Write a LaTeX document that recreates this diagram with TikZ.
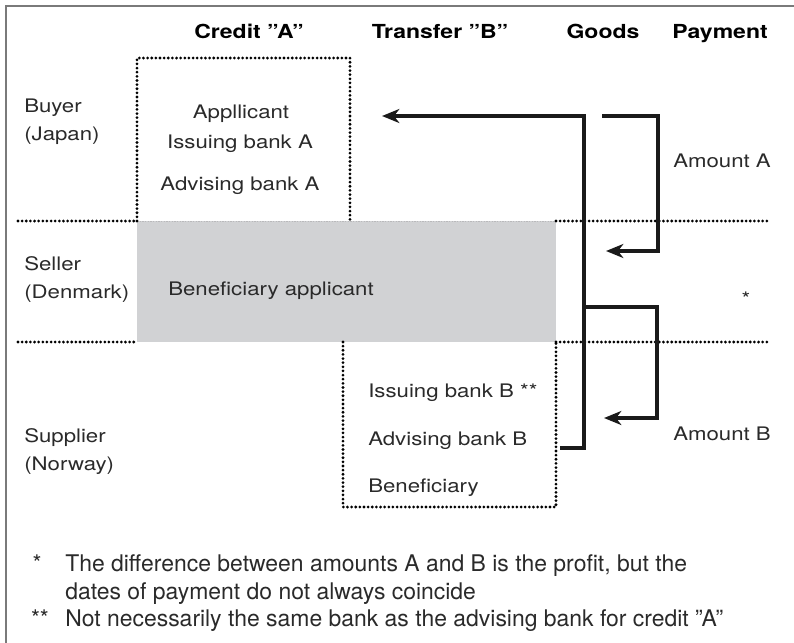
\documentclass[tikz,border=0pt]{standalone}
\usepackage{fontspec}
\usetikzlibrary{arrows.meta}
\newfontfamily\bodyf[FakeStretch=1.19]{TeX Gyre Heros}
\newfontfamily\headf[FakeStretch=1.19]{TeX Gyre Heros}
\newfontfamily\notef{TeX Gyre Heros}
\definecolor{txt}{HTML}{2A2A2A}
\definecolor{boxgray}{HTML}{D1D2D4}
\definecolor{framegray}{HTML}{7A7A7A}
\definecolor{arr}{HTML}{1A1A1A}
\begin{document}
\begin{tikzpicture}[x=0.75pt,y=-0.75pt,
  head/.style={font=\headf\bfseries\fontsize{14.5}{17}\selectfont, text=black, inner sep=0pt, anchor=base},
  body/.style={font=\bodyf\fontsize{14}{17}\selectfont, text=txt, inner sep=0pt, anchor=base west},
  bodyc/.style={font=\bodyf\fontsize{14}{17}\selectfont, text=txt, inner sep=0pt, anchor=base},
  note/.style={font=\notef\fontsize{17.2}{20}\selectfont, text=txt, inner sep=0pt, anchor=base west},
  dotline/.style={line width=2.3pt, dash pattern=on 0pt off 3.1pt, line cap=round, black},
  flow/.style={line width=2.4pt, arr},
  flowarr/.style={flow, -{Stealth[length=13pt,width=10.5pt,inset=4pt]}}
]
\useasboundingbox (0,0) rectangle (794,643);
% frame
\draw[framegray, line width=1.3pt] (6,643) -- (6,6) -- (794,6);
% gray box
\fill[boxgray] (137,221) rectangle (556,342);
\draw[boxgray!70!gray, line width=0.5pt, dash pattern=on 1pt off 1pt] (137,221) -- (556,221);
% dotted lines
\draw[dotline] (18,221) -- (137,221);
\draw[dotline] (556,221) -- (770,221);
\draw[dotline] (18,342) -- (137,342);
\draw[dotline] (556,342) -- (770,342);
\draw[dotline] (137,221) -- (137,58) -- (350,58) -- (350,221);
\draw[dotline] (343,342) -- (343,507) -- (556,507) -- (556,342);
% headers
\node[head] (hA) at (249,38) {Credit ”A”};
\node[head] (hB) at (440,38) {Transfer ”B”};
\node[head] (hG) at (603,38) {Goods};
\node[head] (hP) at (720,38) {Payment};
% row labels
\node[body] (buyer) at (24,112) {Buyer};
\node[body] (japan) at (24,140) {(Japan)};
\node[body] (seller) at (24,270) {Seller};
\node[body] (denmark) at (24,298) {(Denmark)};
\node[body] (supplier) at (24,442) {Supplier};
\node[body] (norway) at (24,470) {(Norway)};
% credit A
\node[bodyc] (appl) at (241,118) {Appllicant};
\node[bodyc] (issA) at (240,148) {Issuing bank A};
\node[bodyc] (advA) at (240,190) {Advising bank A};
% seller
\node[body] (benapp) at (168,295) {Beneficiary applicant};
% transfer B
\node[body] (issB) at (368,397) {Issuing bank B **};
\node[body] (advB) at (368,445) {Advising bank B};
\node[body] (benB) at (368,492) {Beneficiary};
% amounts
\node[body] (amA) at (673,167) {Amount A};
\node[body] (amB) at (673,440) {Amount B};
\node[bodyc] (star) at (746,305) {*};
% goods flow
\coordinate (g0) at (560,448);
\coordinate (g1) at (584,448);
\coordinate (g2) at (584,116);
\coordinate (g3) at (382,116);
\coordinate (gb) at (584,307);
\coordinate (gb1) at (657,307);
\coordinate (gb2) at (657,418);
\coordinate (gb3) at (604,418);
\draw[flowarr] (g0) -- (g1) -- (g2) -- (g3);
\draw[flowarr] (gb) -- (gb1) -- (gb2) -- (gb3);
% payment flow
\coordinate (p0) at (602,116);
\coordinate (p1) at (658,116);
\coordinate (p2) at (658,251);
\coordinate (p3) at (606,251);
\draw[flowarr] (p0) -- (p1) -- (p2) -- (p3);
% footnotes
\node[note, anchor=base] (n1s) at (37,571) {*};
\node[note] (n1) at (65,571) {The difference between amounts A and B is the profit, but the};
\node[note] (n2) at (65,599) {dates of payment do not always coincide};
\node[note, anchor=base] (n3s) at (40,626) {**};
\node[note] (n3) at (65,626) {Not necessarily the same bank as the advising bank for credit ”A”};
\end{tikzpicture}
\end{document}
